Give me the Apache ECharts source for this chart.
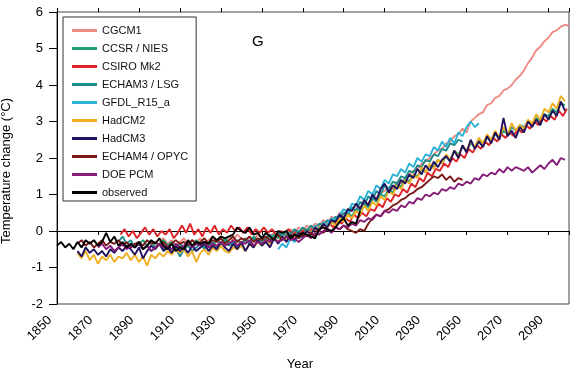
<!DOCTYPE html>
<html>
<head>
<meta charset="utf-8">
<script src="https://cdn.jsdelivr.net/npm/echarts@6/dist/echarts.min.js"></script>
<style>
html,body{margin:0;padding:0;background:#fff;}
#chart{width:576px;height:376px;}
</style>
</head>
<body>
<div id="chart"></div>
<script>
// ---- Data (annual model output read at 2-year spacing) ----
const seriesNames = ['CGCM1','CCSR / NIES','CSIRO Mk2','ECHAM3 / LSG','GFDL_R15_a','HadCM2','HadCM3','ECHAM4 / OPYC','DOE PCM','observed'];
const seriesColors = ['#EE8C82','#1E9E78','#DD2228','#1C8C8C','#2AB2D6','#F0AE22','#22125E','#7A1A18','#861C78','#000000'];
const yearStep = 2;

const cgcm1Start = 1900;
const cgcm1 = [-0.30,-0.20,-0.35,-0.25,-0.40,-0.30,-0.20,-0.35,-0.25,-0.30,-0.20,-0.35,-0.25,-0.15,-0.30,-0.20,-0.30,-0.15,-0.25,-0.10,-0.20,-0.30,-0.15,-0.25,-0.10,-0.20,-0.05,-0.15,-0.05,-0.15,0.00,-0.10,0.05,-0.05,0.10,0.00,0.15,0.05,0.20,0.15,0.30,0.20,0.40,0.30,0.50,0.45,0.60,0.55,0.70,0.65,0.80,0.75,0.95,0.90,1.05,1.10,1.20,1.15,1.35,1.30,1.45,1.55,1.65,1.70,1.85,1.90,2.00,2.10,2.20,2.25,2.40,2.45,2.60,2.65,2.80,2.70,3.00,3.10,3.20,3.25,3.45,3.50,3.65,3.70,3.85,3.90,4.00,4.15,4.25,4.40,4.60,4.75,4.95,5.05,5.20,5.30,5.45,5.50,5.60,5.65,5.62];

const ccsrStart = 1890;
const ccsr = [-0.35,-0.25,-0.40,-0.30,-0.45,-0.35,-0.25,-0.40,-0.30,-0.50,-0.35,-0.45,-0.30,-0.40,-0.25,-0.35,-0.45,-0.30,-0.40,-0.25,-0.35,-0.20,-0.30,-0.40,-0.25,-0.35,-0.20,-0.30,-0.15,-0.25,-0.30,-0.15,-0.25,-0.10,-0.20,-0.05,-0.15,-0.05,-0.10,0.00,-0.10,0.05,0.00,0.10,0.05,0.20,0.15,0.30,0.20,0.40,0.30,0.50,0.40,0.60,0.55,0.75,0.65,0.90,0.80,1.00,0.95,1.15,1.05,1.30,1.20,1.45,1.35,1.55,1.50,1.70,1.60,1.80,1.75,1.95,1.85,2.05,1.95,2.20,2.10,2.30,2.20,2.40,2.30,2.50,2.40,2.55,2.50,2.65,2.55,2.75,2.65,2.85,2.75,2.90,2.85,3.00,2.95,3.10,3.00,3.20,3.15,3.35,3.25,3.50,3.45];

const csiroStart = 1881;
const csiro = [-0.10,0.05,-0.15,0.00,-0.20,-0.05,0.10,-0.10,0.05,-0.15,0.00,-0.10,0.05,-0.20,-0.05,0.15,-0.05,0.20,-0.10,0.05,-0.15,0.10,-0.05,0.15,-0.10,0.05,-0.05,0.15,0.00,0.10,-0.05,0.10,-0.10,0.05,-0.05,0.10,-0.05,0.05,-0.10,0.00,-0.05,0.05,-0.10,0.00,-0.05,0.05,-0.05,0.10,0.00,0.15,0.05,0.20,0.10,0.30,0.20,0.35,0.25,0.45,0.35,0.50,0.40,0.60,0.55,0.75,0.65,0.90,0.80,1.00,0.95,1.15,1.05,1.30,1.20,1.45,1.35,1.60,1.50,1.70,1.65,1.85,1.75,2.00,1.90,2.10,2.00,2.25,2.15,2.35,2.25,2.45,2.35,2.55,2.45,2.65,2.55,2.70,2.60,2.80,2.70,2.90,2.80,3.00,2.90,3.10,3.00,3.15,3.05,3.30,3.15,3.35];

const echam3Start = 1880;
const echam3 = [-0.30,-0.15,-0.35,-0.25,-0.45,-0.35,-0.50,-0.40,-0.55,-0.45,-0.35,-0.50,-0.40,-0.60,-0.45,-0.70,-0.50,-0.40,-0.55,-0.45,-0.35,-0.50,-0.40,-0.30,-0.45,-0.35,-0.25,-0.40,-0.30,-0.45,-0.35,-0.25,-0.35,-0.20,-0.30,-0.15,-0.25,-0.10,-0.20,-0.05,-0.15,0.00,-0.10,0.05,-0.05,0.10,0.00,0.15,0.05,0.20,0.15,0.30,0.20,0.40,0.30,0.50,0.45,0.65,0.55,0.80,0.70,0.95,0.85,1.10,1.00,1.25,1.15,1.35,1.30,1.50,1.45,1.65,1.60,1.80,1.75,1.95,1.90,2.10,2.05,2.25,2.20,2.40,2.35,2.50,2.45];

const gfdlStart = 1958;
const gfdl = [-0.50,-0.35,-0.45,-0.20,-0.30,-0.10,-0.20,0.00,-0.05,0.15,0.05,0.25,0.15,0.35,0.30,0.45,0.60,0.50,0.75,0.70,0.95,0.85,1.10,1.00,1.25,1.15,1.40,1.30,1.55,1.50,1.70,1.60,1.85,1.75,2.00,1.90,2.10,2.05,2.30,2.20,2.45,2.30,2.55,2.40,2.70,2.60,2.85,3.00,2.85,2.95];

const hadcm2Start = 1860;
const hadcm2 = [-0.60,-0.75,-0.55,-0.80,-0.65,-0.90,-0.70,-0.80,-0.65,-0.85,-0.70,-0.75,-0.60,-0.80,-0.65,-0.85,-0.70,-0.95,-0.65,-0.75,-0.60,-0.70,-0.55,-0.65,-0.50,-0.60,-0.50,-0.70,-0.55,-0.85,-0.60,-0.50,-0.65,-0.45,-0.55,-0.40,-0.55,-0.60,-0.45,-0.50,-0.40,-0.55,-0.35,-0.45,-0.30,-0.40,-0.25,-0.35,-0.20,-0.30,-0.15,-0.25,-0.10,-0.20,-0.05,-0.15,0.00,-0.05,0.10,0.05,0.20,0.10,0.25,0.15,0.35,0.25,0.45,0.35,0.55,0.45,0.70,0.55,0.80,0.70,0.95,0.85,1.10,1.00,1.25,1.15,1.40,1.30,1.55,1.45,1.75,1.60,1.85,1.70,1.95,1.85,2.10,1.95,2.20,2.05,2.35,2.20,2.45,2.30,2.55,2.40,2.65,2.50,2.75,2.55,2.85,2.65,2.95,2.75,2.90,2.80,3.05,2.95,3.20,3.05,3.35,3.25,3.50,3.35,3.70,3.55];

const hadcm3Start = 1860;
const hadcm3 = [-0.55,-0.70,-0.45,-0.60,-0.50,-0.65,-0.55,-0.70,-0.50,-0.60,-0.45,-0.55,-0.40,-0.50,-0.65,-0.45,-0.75,-0.55,-0.40,-0.50,-0.35,-0.55,-0.45,-0.60,-0.40,-0.55,-0.45,-0.60,-0.40,-0.55,-0.45,-0.35,-0.55,-0.40,-0.50,-0.30,-0.45,-0.55,-0.35,-0.50,-0.30,-0.55,-0.35,-0.45,-0.25,-0.40,-0.30,-0.45,-0.20,-0.35,-0.15,-0.30,-0.10,-0.25,-0.05,-0.15,0.00,-0.10,0.10,0.00,0.20,0.10,0.30,0.25,0.45,0.35,0.60,0.55,0.75,0.60,0.85,0.70,1.00,0.85,1.15,1.30,1.05,1.25,1.15,1.40,1.30,1.55,1.45,1.70,1.55,1.80,1.65,1.90,1.75,1.95,2.05,1.90,2.20,2.00,2.35,2.15,2.50,2.25,2.45,2.30,2.60,2.40,2.70,2.50,3.10,2.60,2.75,2.55,2.85,2.70,3.00,2.85,3.05,2.90,3.20,3.05,3.30,3.15,3.55,3.30];

const echam4Start = 1860;
const echam4 = [-0.35,-0.25,-0.40,-0.30,-0.45,-0.35,-0.25,-0.40,-0.30,-0.35,-0.25,-0.40,-0.30,-0.45,-0.35,-0.30,-0.40,-0.25,-0.35,-0.30,-0.40,-0.30,-0.45,-0.35,-0.25,-0.35,-0.30,-0.40,-0.25,-0.35,-0.30,-0.20,-0.35,-0.25,-0.30,-0.20,-0.35,-0.25,-0.15,-0.30,-0.20,-0.25,-0.15,-0.30,-0.20,-0.25,-0.15,-0.25,-0.20,-0.10,-0.25,-0.15,-0.20,-0.10,-0.20,-0.10,-0.15,-0.05,-0.15,0.00,-0.05,0.05,0.00,0.10,0.05,0.15,0.05,0.00,-0.05,0.05,0.00,0.20,0.35,0.45,0.40,0.55,0.60,0.70,0.75,0.85,0.90,1.00,1.05,1.15,1.20,1.30,1.40,1.50,1.45,1.55,1.40,1.50,1.35,1.45,1.40];

const doeStart = 1870;
const doe = [-0.45,-0.35,-0.50,-0.40,-0.55,-0.45,-0.35,-0.50,-0.40,-0.45,-0.35,-0.50,-0.40,-0.55,-0.45,-0.35,-0.45,-0.40,-0.50,-0.35,-0.45,-0.40,-0.30,-0.45,-0.35,-0.40,-0.30,-0.45,-0.35,-0.40,-0.30,-0.40,-0.35,-0.25,-0.40,-0.30,-0.35,-0.25,-0.40,-0.30,-0.35,-0.25,-0.30,-0.20,-0.30,-0.25,-0.15,-0.25,-0.20,-0.30,-0.20,-0.10,-0.20,-0.05,-0.10,0.00,0.05,-0.05,0.10,0.05,0.15,0.10,0.20,0.15,0.30,0.25,0.35,0.30,0.45,0.40,0.55,0.50,0.60,0.55,0.70,0.65,0.80,0.75,0.90,0.85,1.00,0.95,1.05,1.00,1.15,1.10,1.20,1.15,1.30,1.25,1.35,1.30,1.45,1.40,1.55,1.50,1.60,1.55,1.70,1.60,1.75,1.65,1.75,1.70,1.65,1.75,1.60,1.70,1.80,1.70,1.85,1.95,1.80,2.00,1.95];

const obsStart = 1850;
const observed = [-0.40,-0.30,-0.45,-0.35,-0.50,-0.30,-0.45,-0.25,-0.35,-0.25,-0.40,-0.30,-0.05,-0.30,-0.15,-0.40,-0.30,-0.45,-0.35,-0.45,-0.30,-0.50,-0.40,-0.25,-0.35,-0.20,-0.40,-0.50,-0.35,-0.55,-0.45,-0.50,-0.25,-0.40,-0.30,-0.35,-0.30,-0.35,-0.15,-0.25,-0.15,-0.20,-0.15,-0.10,0.10,0.00,-0.05,0.10,-0.10,-0.05,-0.20,-0.05,-0.15,-0.25,0.00,-0.05,0.00,-0.20,-0.10,-0.15,-0.05,-0.10,-0.15,-0.20,0.05,0.10,0.05,0.00,0.10,0.25,0.35,0.15,0.25,0.20,0.55];

const seriesStarts = [cgcm1Start, ccsrStart, csiroStart, echam3Start, gfdlStart, hadcm2Start, hadcm3Start, echam4Start, doeStart, obsStart];
const seriesValues = [cgcm1, ccsr, csiro, echam3, gfdl, hadcm2, hadcm3, echam4, doe, observed];

const xMin = 1850, xMax = 2100, xInterval = 20;
const yMin = -2, yMax = 6, yInterval = 1;

// ---- Chart ----
const chart = echarts.init(document.getElementById('chart'), null, {renderer: 'canvas'});
const font = 'Liberation Sans, Arial, Helvetica, sans-serif';

const series = seriesNames.map((name, k) => ({
  name: name,
  type: 'line',
  xAxisIndex: 0,
  yAxisIndex: 0,
  showSymbol: false,
  symbol: 'none',
  animation: false,
  lineStyle: {color: seriesColors[k], width: 1.9},
  itemStyle: {color: seriesColors[k]},
  data: seriesValues[k].map((v, i) => [seriesStarts[k] + i * yearStep, v])
}));

const baseX = {type: 'value', min: xMin, max: xMax, interval: xInterval, splitLine: {show: false}};

chart.setOption({
  animation: false,
  backgroundColor: '#ffffff',
  textStyle: {fontFamily: font},
  grid: {left: 57, right: 7, top: 12, bottom: 72, containLabel: false, outerBoundsMode: 'none',
    show: true, borderColor: '#444', borderWidth: 1, backgroundColor: 'transparent'},
  legend: {
    orient: 'vertical',
    left: 63, top: 17,
    data: seriesNames,
    icon: 'rect',
    itemWidth: 25, itemHeight: 3,
    itemGap: 7,
    padding: [8, 8, 3, 9],
    backgroundColor: '#ffffff',
    borderColor: '#333',
    borderWidth: 1,
    textStyle: {fontFamily: font, fontSize: 11, color: '#111'},
    selectedMode: false
  },
  xAxis: [
    Object.assign({}, baseX, {
      position: 'bottom',
      name: 'Year', nameLocation: 'middle', nameGap: 54, nameMoveOverlap: false,
      nameTextStyle: {fontFamily: font, fontSize: 13, color: '#000', padding: [0, 26, 0, 0]},
      axisLine: {show: false, onZero: false},
      axisTick: {show: false},
      axisLabel: {rotate: 45, margin: 7, fontSize: 13, color: '#000', fontFamily: font, showMaxLabel: false,
        padding: [0, 10, 0, 0],
        formatter: function (v) { return String(v); }}
    }),
    Object.assign({}, baseX, {
      position: 'bottom',
      axisLine: {show: true, onZero: true, lineStyle: {color: '#000', width: 1}},
      axisTick: {show: true, inside: false, length: 4, lineStyle: {color: '#000'}},
      axisLabel: {show: false}
    }),
    Object.assign({}, baseX, {
      position: 'top',
      axisLine: {show: false, onZero: true},
      axisTick: {show: true, inside: false, length: 4, lineStyle: {color: '#000'}},
      axisLabel: {show: false}
    })
  ],
  yAxis: {
    type: 'value', min: yMin, max: yMax, interval: yInterval,
    name: 'Temperature change (°C)', nameLocation: 'middle', nameGap: 44, nameMoveOverlap: false,
    nameTextStyle: {fontFamily: font, fontSize: 13, color: '#000', padding: [0, 26, 0, 0]},
    axisLine: {show: true, lineStyle: {color: '#000'}},
    axisTick: {show: true, length: 8, lineStyle: {color: '#000'}},
    axisLabel: {fontSize: 13, color: '#000', margin: 14, fontFamily: font},
    splitLine: {show: false}
  },
  graphic: [{
    type: 'text', left: 252, top: 34,
    style: {text: 'G', fontFamily: font, fontSize: 15, fill: '#000'}
  }],
  series: series
});
</script>
</body>
</html>
